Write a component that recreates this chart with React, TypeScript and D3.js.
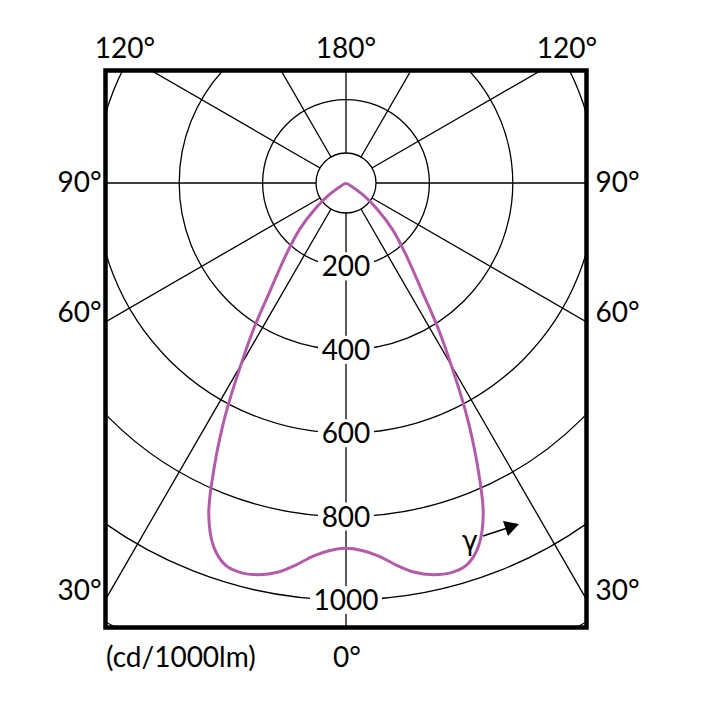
import React from 'react';
import * as d3 from 'd3';

// luminous intensity (cd/1000lm), symmetric about the nadir
const gammaDeg = [0, 2.5, 5, 7.5, 10, 12.5, 15, 17.5, 20, 22.5, 25, 27.5, 30, 32.5, 35, 40, 45, 50, 55, 60, 65];
const intensity = [876, 882, 898, 924, 948, 962, 968, 961, 928, 860, 745, 625, 505, 408, 320, 222, 158, 97, 50, 15, 0];

const ringValues = [200, 400, 600, 800, 1000, 1200];
const ringLabels = ['200', '400', '600', '800', '1000'];
const spokeAngles = [0, 30, 60, 90, 120, 150, 180];
const sideLabels = ['90°', '60°', '30°'];
const topLabels = ['120°', '180°', '120°'];

const W = 717;
const H = 708;
const cx = 346;
const cy = 183;
const box = { x0: 105.5, y0: 70.5, x1: 586.5, y1: 627.5 };
const font = 'Lato, "Open Sans", sans-serif';
const fs = 28;

const App: React.FC = () => {
  const r = d3.scaleLinear().domain([0, 1000]).range([0, 417]);
  const innerR = 30;

  // right side going from 65° down to 0, then left side back up
  const pts: [number, number][] = [];
  for (let i = gammaDeg.length - 1; i >= 0; i--) pts.push([Math.PI - (gammaDeg[i] * Math.PI) / 180, r(intensity[i])]);
  for (let i = 1; i < gammaDeg.length; i++) pts.push([Math.PI + (gammaDeg[i] * Math.PI) / 180, r(intensity[i])]);
  const curve = d3.lineRadial().angle(d => d[0]).radius(d => d[1]).curve(d3.curveCatmullRom.alpha(0.5))(pts) || '';

  // where a spoke (angle from nadir) hits the box side
  const sideHit = (g: number) => {
    const rad = (g * Math.PI) / 180;
    const dx = box.x1 - cx;
    return cy + (dx * Math.cos(rad)) / Math.sin(rad);
  };
  const sideAngles = [90, 60, 30];

  const ringLabelW = (s: string) => s.length * 16 + 8;

  return (
    <svg width={W} height={H} style={{ position: 'absolute', left: 0, top: 0, background: '#fff' }}>
      <defs>
        <clipPath id="boxClip">
          <rect x={box.x0} y={box.y0} width={box.x1 - box.x0} height={box.y1 - box.y0} />
        </clipPath>
      </defs>
      <g clipPath="url(#boxClip)">
        <g transform={`translate(${cx},${cy})`} fill="none" stroke="#000" strokeWidth={1.3}>
          {ringValues.map(v => (
            <circle key={v} r={r(v)} />
          ))}
          <circle r={innerR} fill="#fff" />
          {spokeAngles.flatMap(a => {
            const list = a === 0 || a === 180 ? [a] : [a, -a];
            return list.map(g => {
              const rad = (g * Math.PI) / 180;
              const far = 900;
              return (
                <line
                  key={g + '_' + a}
                  x1={innerR * Math.sin(rad)}
                  y1={innerR * Math.cos(rad)}
                  x2={far * Math.sin(rad)}
                  y2={far * Math.cos(rad)}
                />
              );
            });
          })}
        </g>
        {ringLabels.map((t, i) => (
          <g key={t}>
            <rect
              x={cx - ringLabelW(t) / 2}
              y={cy + r(ringValues[i]) - 14}
              width={ringLabelW(t)}
              height={28}
              fill="#fff"
            />
            <text
              x={cx}
              y={cy + r(ringValues[i]) + 10}
              textAnchor="middle"
              fontFamily={font}
              fontSize={fs}
              fill="#000"
            >
              {t}
            </text>
          </g>
        ))}
        <path d={curve} transform={`translate(${cx},${cy})`} fill="none" stroke="#b35ba9" strokeWidth={3} strokeLinejoin="round" />
      </g>
      <rect
        x={box.x0}
        y={box.y0}
        width={box.x1 - box.x0}
        height={box.y1 - box.y0}
        fill="none"
        stroke="#000"
        strokeWidth={4.5}
      />
      {/* angle labels */}
      {topLabels.map((t, i) => (
        <text key={'t' + i} x={cx + (i - 1) * 221} y={58} textAnchor="middle" fontFamily={font} fontSize={fs}>
          {t}
        </text>
      ))}
      {sideLabels.map((t, i) => {
        const y = sideHit(sideAngles[i]) + (sideAngles[i] === 90 ? 9 : 0);
        return (
          <g key={'s' + i}>
            <text x={box.x0 - 4} y={y} textAnchor="end" fontFamily={font} fontSize={fs}>
              {t}
            </text>
            <text x={box.x1 + 9} y={y} textAnchor="start" fontFamily={font} fontSize={fs}>
              {t}
            </text>
          </g>
        );
      })}
      <text x={106} y={667} fontFamily={font} fontSize={fs}>
        (cd/1000lm)
      </text>
      <text x={333} y={667} fontFamily={font} fontSize={fs}>
        0°
      </text>
      {/* gamma arrow */}
      <text x={470} y={550} textAnchor="middle" fontFamily='"DejaVu Sans", sans-serif' fontSize={27}>
        γ
      </text>
      <line x1={483} y1={536} x2={506} y2={528.5} stroke="#000" strokeWidth={1.5} />
      <path d="M519,524 L503,521 L508,536 Z" fill="#000" />
    </svg>
  );
};

export default App;
